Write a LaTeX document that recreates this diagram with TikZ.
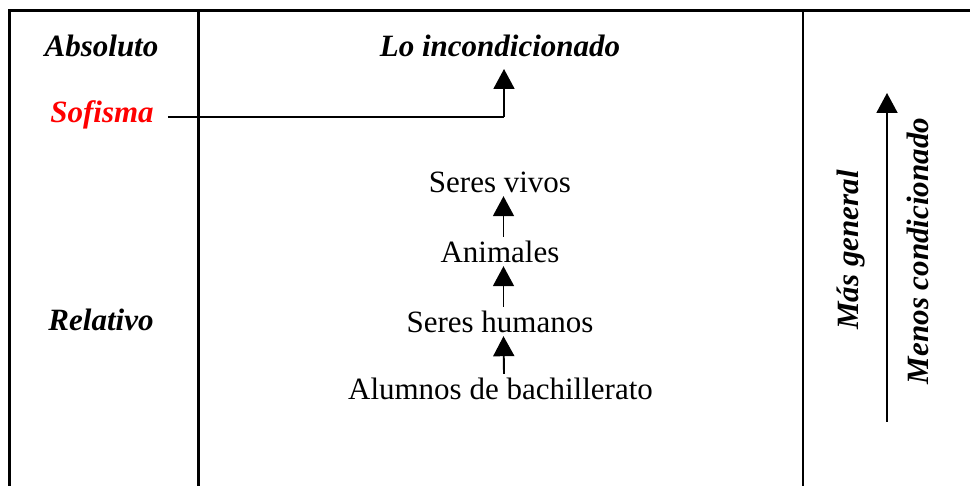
\documentclass[tikz,border=0pt]{standalone}
\usepackage{fontspec}
\setmainfont{Liberation Serif}
\usetikzlibrary{arrows.meta}
\definecolor{sofred}{RGB}{255,0,0}
\tikzset{
  frame/.style={line width=2.6pt},
  conn/.style={line width=1.9pt},
  arr/.style={line width=1.9pt,-{Triangle[width=21pt,length=20pt]}},
  lbl/.style={inner sep=0pt,anchor=base,font=\fontsize{31}{36}\selectfont\bfseries\itshape},
  item/.style={inner sep=0pt,anchor=base,text height=26pt,text depth=3pt,font=\fontsize{31}{36}\selectfont},
}
\begin{document}
\begin{tikzpicture}[x=1pt,y=-1pt]
\useasboundingbox (0,0) rectangle (970,486);
% frame
\draw[frame] (9.5,486) -- (9.5,10.5) -- (970,10.5);
\draw[frame] (198.5,10.5) -- (198.5,486);
\draw[frame] (803,10.5) -- (803,486);
% left labels
\node[lbl] (abs) at (101.5,57) {Absoluto};
\node[lbl,text=sofred] (sof) at (102,123) {Sofisma};
\node[lbl] (rel) at (101,331) {Relativo};
% center
\node[lbl] (top) at (500,57) {Lo incondicionado};
\node[item] (viv) at (500,193) {Seres vivos};
\node[item] (ani) at (500,263) {Animales};
\node[item] (hum) at (500,333) {Seres humanos};
\node[item] (alu) at (500.5,400) {Alumnos de bachillerato};
\coordinate (j) at ([xshift=4pt,yshift=-60pt]top.base);
\draw[conn] ([xshift=14pt,yshift=6pt]sof.base east) -- (j);
\draw[arr] (j) -- ([xshift=4pt,yshift=-12pt]top.base);
\draw[arr] ([xshift=3.5pt]alu.north) -- ([xshift=3.5pt]hum.south);
\draw[arr] ([xshift=3.5pt]hum.north) -- ([xshift=3.5pt]ani.south);
\draw[arr] ([xshift=3.5pt]ani.north) -- ([xshift=3.5pt]viv.south);
% right column
\node[lbl,rotate=90] (gen) at (858,250) {Más general};
\node[lbl,rotate=90] (men) at (928,251) {Menos condicionado};
\coordinate (rb) at (887,422);
\coordinate (rt) at (887,93);
\draw[arr] (rb) -- (rt);
\end{tikzpicture}
\end{document}
